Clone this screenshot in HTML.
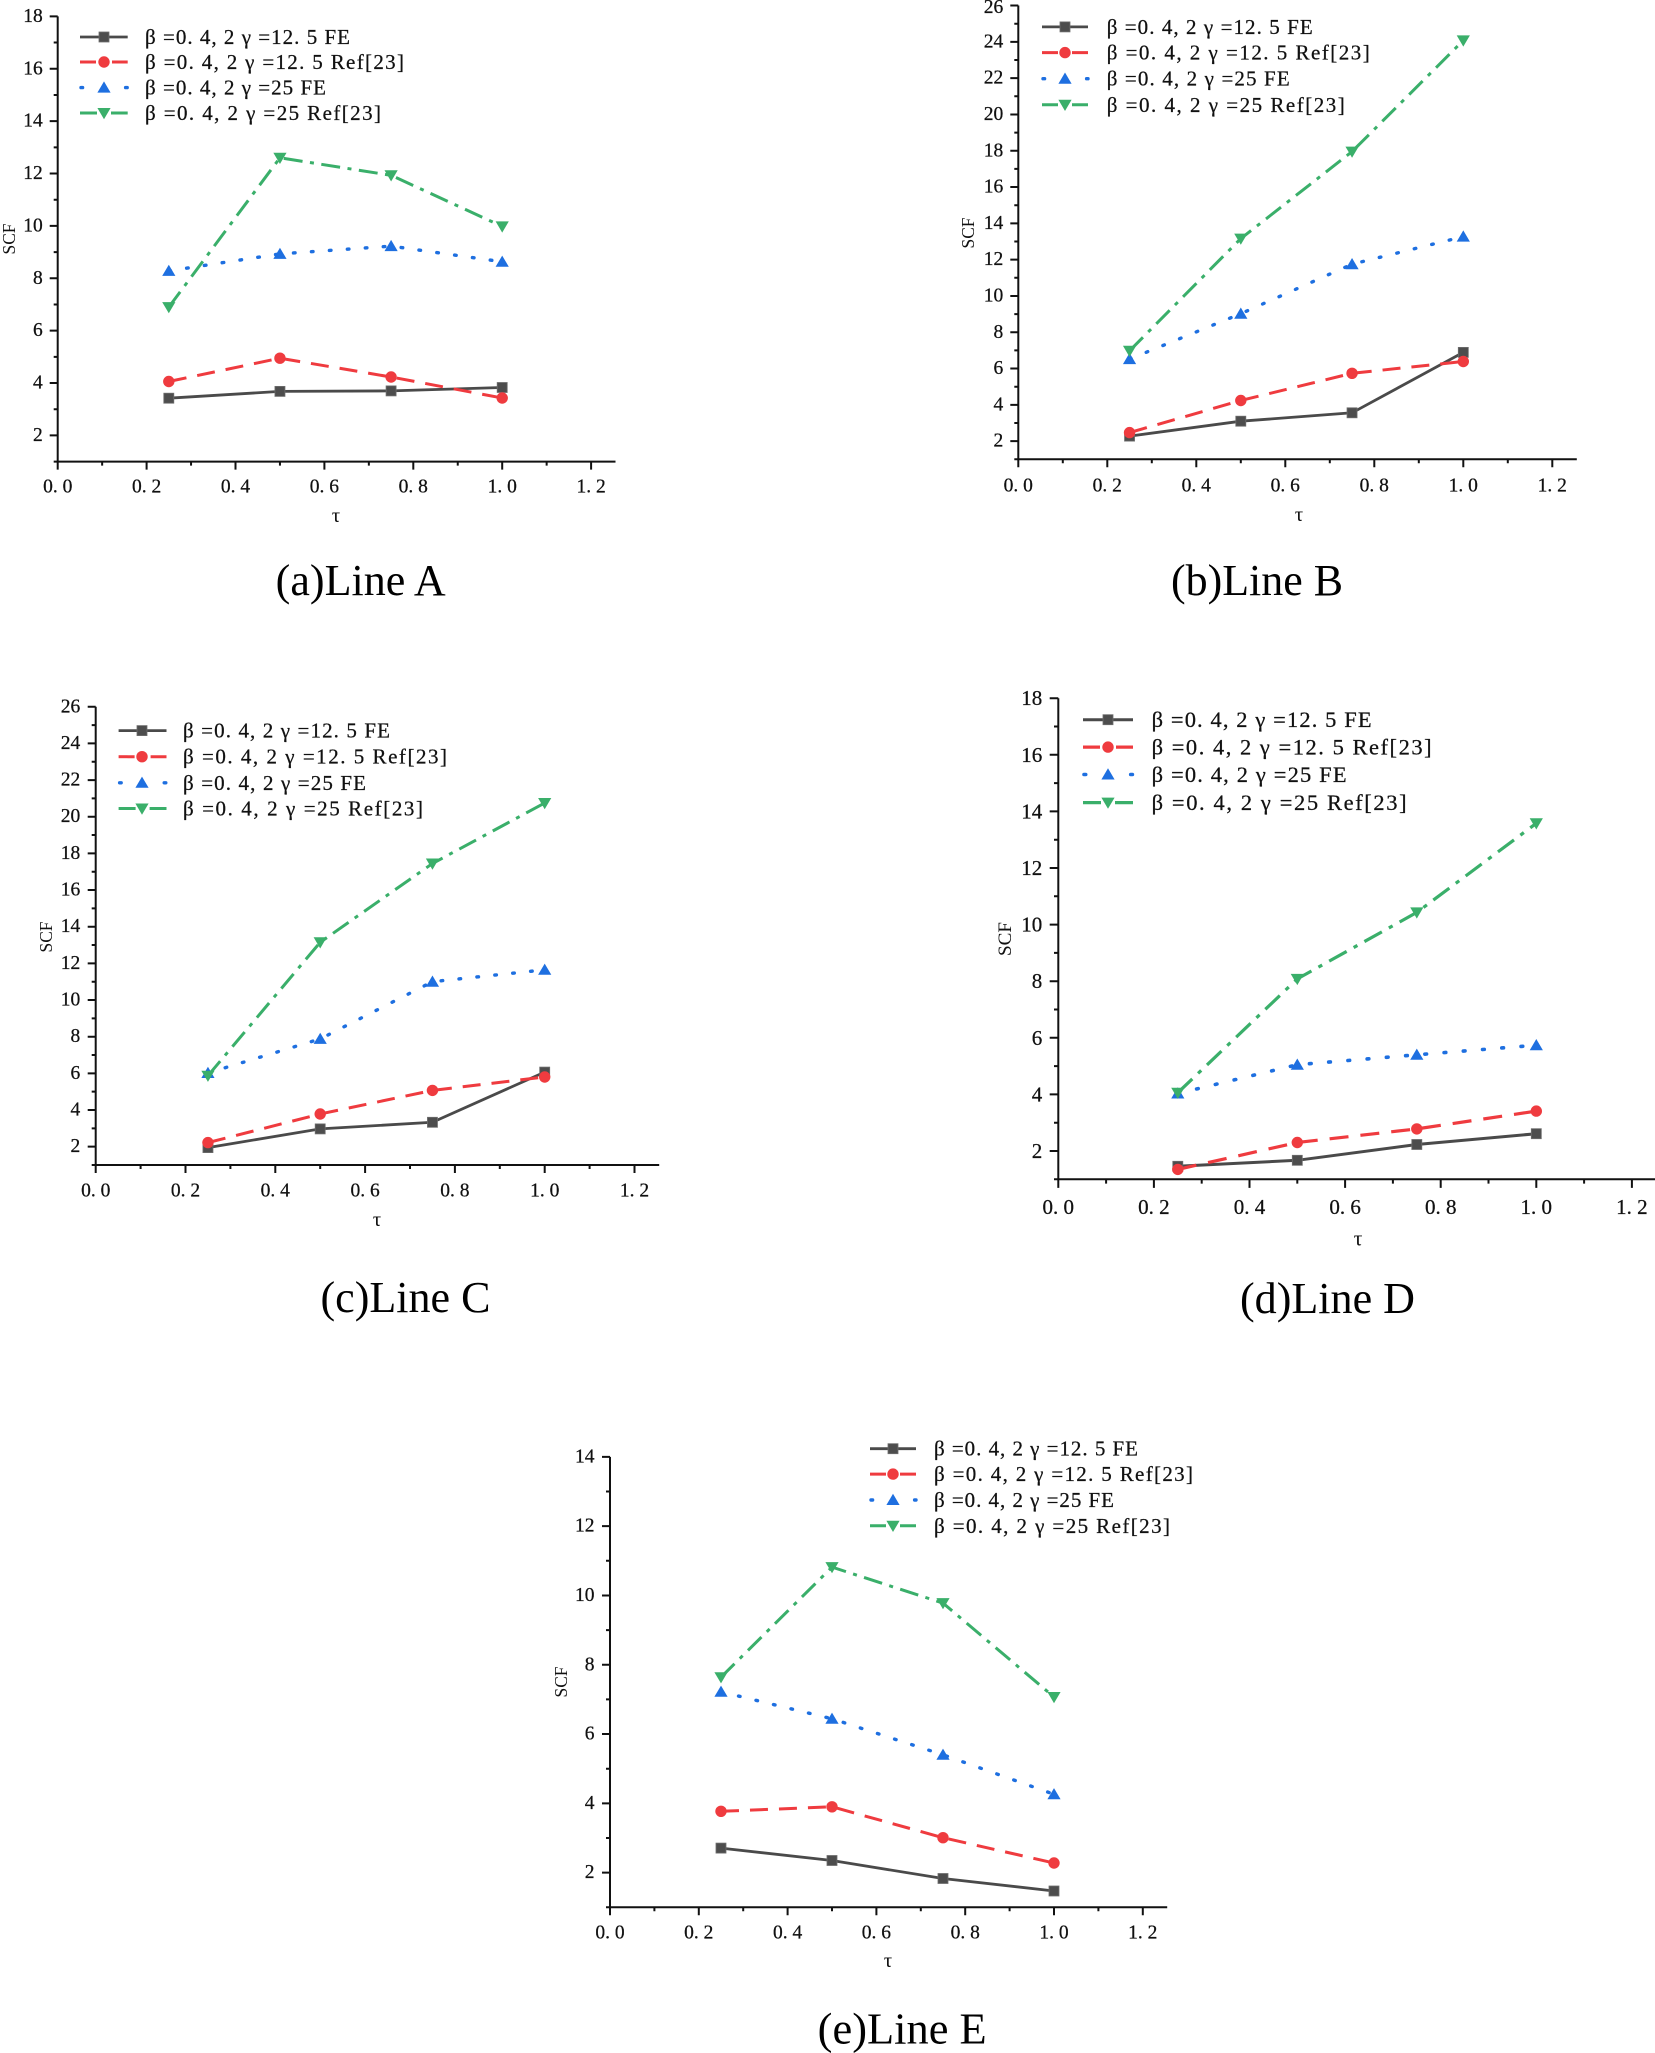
<!DOCTYPE html>
<html><head><meta charset="utf-8"><style>html,body{margin:0;padding:0;background:#fff;}svg{display:block;}</style></head>
<body>
<svg xmlns="http://www.w3.org/2000/svg" width="1655" height="2053" viewBox="0 0 1655 2053">
<rect width="1655" height="2053" fill="#fff"/>
<defs>
<rect id="sq" x="-5" y="-5" width="10" height="10" fill="#4d4d4d" stroke="#6e6e6e" stroke-width="0.8"/>
<circle id="ci" r="5.7" fill="#ef3b3f"/>
<path id="tu" d="M0 -6.2L6.6 5L-6.6 5Z" fill="#1e6fe0"/>
<path id="td" d="M-6.6 -5L6.6 -5L0 6.2Z" fill="#3aaf6a"/>
</defs>

<!-- ================= AXES & TICKS ================= -->
<g fill="none" stroke="#111" stroke-width="2">
<path d="M57.7 16.37V461.6H615.5"/>
<path d="M49.7 435.41H57.7M49.7 383.03H57.7M49.7 330.65H57.7M49.7 278.27H57.7M49.7 225.89H57.7M49.7 173.51H57.7M49.7 121.13H57.7M49.7 68.75H57.7M49.7 16.37H57.7M53.7 461.6H57.7M53.7 409.22H57.7M53.7 356.84H57.7M53.7 304.46H57.7M53.7 252.08H57.7M53.7 199.7H57.7M53.7 147.32H57.7M53.7 94.94H57.7M53.7 42.56H57.7M57.7 461.6V469.6M146.6 461.6V469.6M235.5 461.6V469.6M324.4 461.6V469.6M413.3 461.6V469.6M502.2 461.6V469.6M591.1 461.6V469.6M102.15 461.6V465.6M191.05 461.6V465.6M279.95 461.6V465.6M368.85 461.6V465.6M457.75 461.6V465.6M546.65 461.6V465.6"/>
<path d="M1018.3 5.55V459.3H1576.8"/>
<path d="M1010.3 441.15H1018.3M1010.3 404.85H1018.3M1010.3 368.55H1018.3M1010.3 332.25H1018.3M1010.3 295.95H1018.3M1010.3 259.65H1018.3M1010.3 223.35H1018.3M1010.3 187.05H1018.3M1010.3 150.75H1018.3M1010.3 114.45H1018.3M1010.3 78.15H1018.3M1010.3 41.85H1018.3M1010.3 5.55H1018.3M1014.3 459.3H1018.3M1014.3 423H1018.3M1014.3 386.7H1018.3M1014.3 350.4H1018.3M1014.3 314.1H1018.3M1014.3 277.8H1018.3M1014.3 241.5H1018.3M1014.3 205.2H1018.3M1014.3 168.9H1018.3M1014.3 132.6H1018.3M1014.3 96.3H1018.3M1014.3 60H1018.3M1014.3 23.7H1018.3M1018.3 459.3V467.3M1107.3 459.3V467.3M1196.3 459.3V467.3M1285.3 459.3V467.3M1374.3 459.3V467.3M1463.3 459.3V467.3M1552.3 459.3V467.3M1062.8 459.3V463.3M1151.8 459.3V463.3M1240.8 459.3V463.3M1329.8 459.3V463.3M1418.8 459.3V463.3M1507.8 459.3V463.3"/>
<path d="M95.7 706.75V1165H659.2"/>
<path d="M87.7 1146.67H95.7M87.7 1110.01H95.7M87.7 1073.35H95.7M87.7 1036.69H95.7M87.7 1000.03H95.7M87.7 963.37H95.7M87.7 926.71H95.7M87.7 890.05H95.7M87.7 853.39H95.7M87.7 816.73H95.7M87.7 780.07H95.7M87.7 743.41H95.7M87.7 706.75H95.7M91.7 1165H95.7M91.7 1128.34H95.7M91.7 1091.68H95.7M91.7 1055.02H95.7M91.7 1018.36H95.7M91.7 981.7H95.7M91.7 945.04H95.7M91.7 908.38H95.7M91.7 871.72H95.7M91.7 835.06H95.7M91.7 798.4H95.7M91.7 761.74H95.7M91.7 725.08H95.7M95.7 1165V1173M185.5 1165V1173M275.3 1165V1173M365.1 1165V1173M454.9 1165V1173M544.7 1165V1173M634.5 1165V1173M140.6 1165V1169M230.4 1165V1169M320.2 1165V1169M410 1165V1169M499.8 1165V1169M589.6 1165V1169"/>
<path d="M1058.3 698.2V1179.3H1655"/>
<path d="M1049.7 1151H1058.3M1049.7 1094.4H1058.3M1049.7 1037.8H1058.3M1049.7 981.2H1058.3M1049.7 924.6H1058.3M1049.7 868H1058.3M1049.7 811.4H1058.3M1049.7 754.8H1058.3M1049.7 698.2H1058.3M1054 1179.3H1058.3M1054 1122.7H1058.3M1054 1066.1H1058.3M1054 1009.5H1058.3M1054 952.9H1058.3M1054 896.3H1058.3M1054 839.7H1058.3M1054 783.1H1058.3M1054 726.5H1058.3M1058.3 1179.3V1187.9M1153.9 1179.3V1187.9M1249.5 1179.3V1187.9M1345.1 1179.3V1187.9M1440.7 1179.3V1187.9M1536.3 1179.3V1187.9M1631.9 1179.3V1187.9M1106.1 1179.3V1183.6M1201.7 1179.3V1183.6M1297.3 1179.3V1183.6M1392.9 1179.3V1183.6M1488.5 1179.3V1183.6M1584.1 1179.3V1183.6"/>
<path d="M610 1456.85V1907.3H1167.2"/>
<path d="M602 1872.65H610M602 1803.35H610M602 1734.05H610M602 1664.75H610M602 1595.45H610M602 1526.15H610M602 1456.85H610M606 1907.3H610M606 1838H610M606 1768.7H610M606 1699.4H610M606 1630.1H610M606 1560.8H610M606 1491.5H610M610 1907.3V1915.3M698.8 1907.3V1915.3M787.6 1907.3V1915.3M876.4 1907.3V1915.3M965.2 1907.3V1915.3M1054 1907.3V1915.3M1142.8 1907.3V1915.3M654.4 1907.3V1911.3M743.2 1907.3V1911.3M832 1907.3V1911.3M920.8 1907.3V1911.3M1009.6 1907.3V1911.3M1098.4 1907.3V1911.3"/>
</g>

<!-- ================= TICK LABELS ================= -->
<g font-family="'Liberation Serif', 'Noto Serif CJK SC', serif" font-size="19.5" fill="#111" stroke="#111" stroke-width="0.25" dominant-baseline="central">
<g text-anchor="end">
<text x="42.7" y="435.41">2</text><text x="42.7" y="383.03">4</text><text x="42.7" y="330.65">6</text><text x="42.7" y="278.27">8</text><text x="42.7" y="225.89">10</text><text x="42.7" y="173.51">12</text><text x="42.7" y="121.13">14</text><text x="42.7" y="68.75">16</text><text x="42.7" y="16.37">18</text>
</g>
<g text-anchor="middle">
<text x="57.7" y="487">0. 0</text><text x="146.6" y="487">0. 2</text><text x="235.5" y="487">0. 4</text><text x="324.4" y="487">0. 6</text><text x="413.3" y="487">0. 8</text><text x="502.2" y="487">1. 0</text><text x="591.1" y="487">1. 2</text>
</g>
<g text-anchor="end">
<text x="1003.3" y="441.15">2</text><text x="1003.3" y="404.85">4</text><text x="1003.3" y="368.55">6</text><text x="1003.3" y="332.25">8</text><text x="1003.3" y="295.95">10</text><text x="1003.3" y="259.65">12</text><text x="1003.3" y="223.35">14</text><text x="1003.3" y="187.05">16</text><text x="1003.3" y="150.75">18</text><text x="1003.3" y="114.45">20</text><text x="1003.3" y="78.15">22</text><text x="1003.3" y="41.85">24</text><text x="1003.3" y="7.5">26</text>
</g>
<g text-anchor="middle">
<text x="1018.3" y="486">0. 0</text><text x="1107.3" y="486">0. 2</text><text x="1196.3" y="486">0. 4</text><text x="1285.3" y="486">0. 6</text><text x="1374.3" y="486">0. 8</text><text x="1463.3" y="486">1. 0</text><text x="1552.3" y="486">1. 2</text>
</g>
<g text-anchor="end">
<text x="80.2" y="1146.67">2</text><text x="80.2" y="1110.01">4</text><text x="80.2" y="1073.35">6</text><text x="80.2" y="1036.69">8</text><text x="80.2" y="1000.03">10</text><text x="80.2" y="963.37">12</text><text x="80.2" y="926.71">14</text><text x="80.2" y="890.05">16</text><text x="80.2" y="853.39">18</text><text x="80.2" y="816.73">20</text><text x="80.2" y="780.07">22</text><text x="80.2" y="743.41">24</text><text x="80.2" y="706.75">26</text>
</g>
<g text-anchor="middle">
<text x="95.7" y="1191">0. 0</text><text x="185.5" y="1191">0. 2</text><text x="275.3" y="1191">0. 4</text><text x="365.1" y="1191">0. 6</text><text x="454.9" y="1191">0. 8</text><text x="544.7" y="1191">1. 0</text><text x="634.5" y="1191">1. 2</text>
</g>
<g font-size="21">
<g text-anchor="end">
<text x="1042.3" y="1151">2</text><text x="1042.3" y="1094.4">4</text><text x="1042.3" y="1037.8">6</text><text x="1042.3" y="981.2">8</text><text x="1042.3" y="924.6">10</text><text x="1042.3" y="868">12</text><text x="1042.3" y="811.4">14</text><text x="1042.3" y="754.8">16</text><text x="1042.3" y="698.2">18</text>
</g>
<g text-anchor="middle">
<text x="1058.3" y="1207">0. 0</text><text x="1153.9" y="1207">0. 2</text><text x="1249.5" y="1207">0. 4</text><text x="1345.1" y="1207">0. 6</text><text x="1440.7" y="1207">0. 8</text><text x="1536.3" y="1207">1. 0</text><text x="1631.9" y="1207">1. 2</text>
</g>
</g>
<g text-anchor="end">
<text x="594.5" y="1872.65">2</text><text x="594.5" y="1803.35">4</text><text x="594.5" y="1734.05">6</text><text x="594.5" y="1664.75">8</text><text x="594.5" y="1595.45">10</text><text x="594.5" y="1526.15">12</text><text x="594.5" y="1456.85">14</text>
</g>
<g text-anchor="middle">
<text x="610" y="1933">0. 0</text><text x="698.8" y="1933">0. 2</text><text x="787.6" y="1933">0. 4</text><text x="876.4" y="1933">0. 6</text><text x="965.2" y="1933">0. 8</text><text x="1054" y="1933">1. 0</text><text x="1142.8" y="1933">1. 2</text>
</g>
</g>

<!-- ================= AXIS TITLES ================= -->
<g font-family="'Liberation Serif', serif" fill="#111" text-anchor="middle" dominant-baseline="central">
<text transform="translate(9,239) rotate(-90)" font-size="18" textLength="31" lengthAdjust="spacingAndGlyphs">SCF</text>
<text transform="translate(968,233) rotate(-90)" font-size="18" textLength="31" lengthAdjust="spacingAndGlyphs">SCF</text>
<text transform="translate(46,937) rotate(-90)" font-size="18" textLength="31" lengthAdjust="spacingAndGlyphs">SCF</text>
<text transform="translate(1005.6,939) rotate(-90)" font-size="19" textLength="34" lengthAdjust="spacingAndGlyphs">SCF</text>
<text transform="translate(561,1682) rotate(-90)" font-size="18" textLength="31" lengthAdjust="spacingAndGlyphs">SCF</text>
<text x="336" y="515" font-size="21">τ</text>
<text x="1299" y="514" font-size="21">τ</text>
<text x="377" y="1219" font-size="21">τ</text>
<text x="1358" y="1238" font-size="22">τ</text>
<text x="888" y="1960" font-size="21">τ</text>
</g>

<!-- ================= CAPTIONS ================= -->
<g font-family="'Liberation Serif', serif" fill="#000" font-size="44">
<text x="275.7" y="595" textLength="170" lengthAdjust="spacingAndGlyphs">(a)Line A</text>
<text x="1171" y="595" textLength="172" lengthAdjust="spacingAndGlyphs">(b)Line B</text>
<text x="320.5" y="1312" textLength="170" lengthAdjust="spacingAndGlyphs">(c)Line C</text>
<text x="1240" y="1313" textLength="175" lengthAdjust="spacingAndGlyphs">(d)Line D</text>
<text x="817.7" y="2043.5" textLength="169" lengthAdjust="spacingAndGlyphs">(e)Line E</text>
</g>

<!-- ================= SERIES ================= -->
<g fill="none">
<polyline points="168.8,398.2 279.95,391.4 391.1,390.9 502.2,387.5" stroke="#4a4a4a" stroke-width="2.8"/>
<polyline points="168.8,381.5 279.95,358.2 391.1,377 502.2,398" stroke="#ef3b3f" stroke-width="3" stroke-dasharray="18 11"/>
<polyline points="168.8,270.9 279.95,253.9 391.1,246.1 502.2,261.8" stroke="#1e6fe0" stroke-width="3.4" stroke-dasharray="1.6 16.4" stroke-linecap="round"/>
<polyline points="168.8,307.1 279.95,157.8 391.1,175.3 502.2,226.4" stroke="#3aaf6a" stroke-width="3" stroke-dasharray="19 7.5 4 7.5"/>
<polyline points="1129.55,436.1 1240.8,421.2 1352.05,412.8 1463.3,352.4" stroke="#4a4a4a" stroke-width="2.8"/>
<polyline points="1129.55,432.6 1240.8,400.5 1352.05,373.3 1463.3,361.5" stroke="#ef3b3f" stroke-width="3" stroke-dasharray="18 11"/>
<polyline points="1129.55,359.1 1240.8,313.7 1352.05,264.2 1463.3,236.6" stroke="#1e6fe0" stroke-width="3.4" stroke-dasharray="1.6 16.4" stroke-linecap="round"/>
<polyline points="1129.55,350.8 1240.8,238.6 1352.05,151.6 1463.3,40.4" stroke="#3aaf6a" stroke-width="3" stroke-dasharray="19 7.5 4 7.5"/>
<polyline points="207.95,1147.6 320.2,1128.9 432.45,1122.3 544.7,1072.1" stroke="#4a4a4a" stroke-width="2.8"/>
<polyline points="207.95,1142.6 320.2,1114 432.45,1090.4 544.7,1077" stroke="#ef3b3f" stroke-width="3" stroke-dasharray="18 11"/>
<polyline points="207.95,1073 320.2,1038.9 432.45,981.7 544.7,969.8" stroke="#1e6fe0" stroke-width="3.4" stroke-dasharray="1.6 16.4" stroke-linecap="round"/>
<polyline points="207.95,1075.7 320.2,942.3 432.45,863.5 544.7,803" stroke="#3aaf6a" stroke-width="3" stroke-dasharray="19 7.5 4 7.5"/>
<polyline points="1177.8,1166.3 1297.3,1160.3 1416.8,1144.5 1536.3,1133.7" stroke="#4a4a4a" stroke-width="3"/>
<polyline points="1177.8,1169.4 1297.3,1142.5 1416.8,1128.9 1536.3,1111.1" stroke="#ef3b3f" stroke-width="3.2" stroke-dasharray="19 12"/>
<polyline points="1177.8,1093.5 1297.3,1064.7 1416.8,1054.8 1536.3,1045.2" stroke="#1e6fe0" stroke-width="3.6" stroke-dasharray="1.7 17.6" stroke-linecap="round"/>
<polyline points="1177.8,1092.7 1297.3,978.9 1416.8,912.4 1536.3,823.3" stroke="#3aaf6a" stroke-width="3.2" stroke-dasharray="20 8 4.3 8"/>
<polyline points="721,1848.1 832,1860.5 943,1878.5 1054,1891" stroke="#4a4a4a" stroke-width="2.8"/>
<polyline points="721,1811.3 832,1806.8 943,1837.7 1054,1863" stroke="#ef3b3f" stroke-width="3" stroke-dasharray="18 11"/>
<polyline points="721,1691.8 832,1718.8 943,1754.8 1054,1794.3" stroke="#1e6fe0" stroke-width="3.4" stroke-dasharray="1.6 16.4" stroke-linecap="round"/>
<polyline points="721,1677.2 832,1567.1 943,1603.1 1054,1697" stroke="#3aaf6a" stroke-width="3" stroke-dasharray="19 7.5 4 7.5"/>
</g>

<g>
<use href="#sq" x="168.8" y="398.2"/><use href="#sq" x="279.95" y="391.4"/><use href="#sq" x="391.1" y="390.9"/><use href="#sq" x="502.2" y="387.5"/>
<use href="#ci" x="168.8" y="381.5"/><use href="#ci" x="279.95" y="358.2"/><use href="#ci" x="391.1" y="377"/><use href="#ci" x="502.2" y="398"/>
<use href="#tu" x="168.8" y="270.9"/><use href="#tu" x="279.95" y="253.9"/><use href="#tu" x="391.1" y="246.1"/><use href="#tu" x="502.2" y="261.8"/>
<use href="#td" x="168.8" y="307.1"/><use href="#td" x="279.95" y="157.8"/><use href="#td" x="391.1" y="175.3"/><use href="#td" x="502.2" y="226.4"/>
<use href="#sq" x="1129.55" y="436.1"/><use href="#sq" x="1240.8" y="421.2"/><use href="#sq" x="1352.05" y="412.8"/><use href="#sq" x="1463.3" y="352.4"/>
<use href="#ci" x="1129.55" y="432.6"/><use href="#ci" x="1240.8" y="400.5"/><use href="#ci" x="1352.05" y="373.3"/><use href="#ci" x="1463.3" y="361.5"/>
<use href="#tu" x="1129.55" y="359.1"/><use href="#tu" x="1240.8" y="313.7"/><use href="#tu" x="1352.05" y="264.2"/><use href="#tu" x="1463.3" y="236.6"/>
<use href="#td" x="1129.55" y="350.8"/><use href="#td" x="1240.8" y="238.6"/><use href="#td" x="1352.05" y="151.6"/><use href="#td" x="1463.3" y="40.4"/>
<use href="#sq" x="207.95" y="1147.6"/><use href="#sq" x="320.2" y="1128.9"/><use href="#sq" x="432.45" y="1122.3"/><use href="#sq" x="544.7" y="1072.1"/>
<use href="#ci" x="207.95" y="1142.6"/><use href="#ci" x="320.2" y="1114"/><use href="#ci" x="432.45" y="1090.4"/><use href="#ci" x="544.7" y="1077"/>
<use href="#tu" x="207.95" y="1073"/><use href="#tu" x="320.2" y="1038.9"/><use href="#tu" x="432.45" y="981.7"/><use href="#tu" x="544.7" y="969.8"/>
<use href="#td" x="207.95" y="1075.7"/><use href="#td" x="320.2" y="942.3"/><use href="#td" x="432.45" y="863.5"/><use href="#td" x="544.7" y="803"/>
<use href="#sq" x="1177.8" y="1166.3"/><use href="#sq" x="1297.3" y="1160.3"/><use href="#sq" x="1416.8" y="1144.5"/><use href="#sq" x="1536.3" y="1133.7"/>
<use href="#ci" x="1177.8" y="1169.4"/><use href="#ci" x="1297.3" y="1142.5"/><use href="#ci" x="1416.8" y="1128.9"/><use href="#ci" x="1536.3" y="1111.1"/>
<use href="#tu" x="1177.8" y="1093.5"/><use href="#tu" x="1297.3" y="1064.7"/><use href="#tu" x="1416.8" y="1054.8"/><use href="#tu" x="1536.3" y="1045.2"/>
<use href="#td" x="1177.8" y="1092.7"/><use href="#td" x="1297.3" y="978.9"/><use href="#td" x="1416.8" y="912.4"/><use href="#td" x="1536.3" y="823.3"/>
<use href="#sq" x="721" y="1848.1"/><use href="#sq" x="832" y="1860.5"/><use href="#sq" x="943" y="1878.5"/><use href="#sq" x="1054" y="1891"/>
<use href="#ci" x="721" y="1811.3"/><use href="#ci" x="832" y="1806.8"/><use href="#ci" x="943" y="1837.7"/><use href="#ci" x="1054" y="1863"/>
<use href="#tu" x="721" y="1691.8"/><use href="#tu" x="832" y="1718.8"/><use href="#tu" x="943" y="1754.8"/><use href="#tu" x="1054" y="1794.3"/>
<use href="#td" x="721" y="1677.2"/><use href="#td" x="832" y="1567.1"/><use href="#td" x="943" y="1603.1"/><use href="#td" x="1054" y="1697"/>
</g>

<!-- ================= LEGENDS ================= -->
<g fill="none">
<path d="M80 37H127.7" stroke="#4a4a4a" stroke-width="2.8"/>
<path d="M80 62H127.7" stroke="#ef3b3f" stroke-width="3" stroke-dasharray="16 16"/>
<path d="M81 87.6H127.7" stroke="#1e6fe0" stroke-width="3.4" stroke-dasharray="1.6 43" stroke-linecap="round"/>
<path d="M80 113H127.7" stroke="#3aaf6a" stroke-width="3" stroke-dasharray="17 14 17"/>
<path d="M1042 26.9H1088" stroke="#4a4a4a" stroke-width="2.8"/>
<path d="M1042 52.6H1088" stroke="#ef3b3f" stroke-width="3" stroke-dasharray="16 14"/>
<path d="M1043 78.7H1088" stroke="#1e6fe0" stroke-width="3.4" stroke-dasharray="1.6 42" stroke-linecap="round"/>
<path d="M1042 104.8H1088" stroke="#3aaf6a" stroke-width="3" stroke-dasharray="16 14 16"/>
<path d="M118.6 730.6H166.5" stroke="#4a4a4a" stroke-width="2.8"/>
<path d="M118.6 756.7H166.5" stroke="#ef3b3f" stroke-width="3" stroke-dasharray="16 16"/>
<path d="M119.6 782.8H166.5" stroke="#1e6fe0" stroke-width="3.4" stroke-dasharray="1.6 43" stroke-linecap="round"/>
<path d="M118.6 808.5H166.5" stroke="#3aaf6a" stroke-width="3" stroke-dasharray="17 14 17"/>
<path d="M1083 719.7H1133" stroke="#4a4a4a" stroke-width="3"/>
<path d="M1083 747.1H1133" stroke="#ef3b3f" stroke-width="3.2" stroke-dasharray="17 16"/>
<path d="M1084 774.5H1133" stroke="#1e6fe0" stroke-width="3.6" stroke-dasharray="1.7 45" stroke-linecap="round"/>
<path d="M1083 802.6H1133" stroke="#3aaf6a" stroke-width="3.2" stroke-dasharray="18 14 18"/>
<path d="M870 1448.7H916" stroke="#4a4a4a" stroke-width="2.8"/>
<path d="M870 1474.1H916" stroke="#ef3b3f" stroke-width="3" stroke-dasharray="16 14"/>
<path d="M871 1500H916" stroke="#1e6fe0" stroke-width="3.4" stroke-dasharray="1.6 42" stroke-linecap="round"/>
<path d="M870 1525.8H916" stroke="#3aaf6a" stroke-width="3" stroke-dasharray="16 14 16"/>
</g>
<g>
<use href="#sq" x="104" y="37"/><use href="#ci" x="104" y="62"/><use href="#tu" x="104" y="87.6"/><use href="#td" x="104" y="113"/>
<use href="#sq" x="1065" y="26.9"/><use href="#ci" x="1065" y="52.6"/><use href="#tu" x="1065" y="78.7"/><use href="#td" x="1065" y="104.8"/>
<use href="#sq" x="142" y="730.6"/><use href="#ci" x="142" y="756.7"/><use href="#tu" x="142" y="782.8"/><use href="#td" x="142" y="808.5"/>
<use href="#sq" x="1108" y="719.7"/><use href="#ci" x="1108" y="747.1"/><use href="#tu" x="1108" y="774.5"/><use href="#td" x="1108" y="802.6"/>
<use href="#sq" x="893" y="1448.7"/><use href="#ci" x="893" y="1474.1"/><use href="#tu" x="893" y="1500"/><use href="#td" x="893" y="1525.8"/>
</g>
<g font-family="'Liberation Serif', 'Noto Serif CJK SC', serif" font-size="21" fill="#111" stroke="#111" stroke-width="0.25" dominant-baseline="central">
<text x="145" y="37" textLength="205" lengthAdjust="spacing">β =0. 4, 2 γ =12. 5  FE</text>
<text x="145" y="62" textLength="259" lengthAdjust="spacing">β =0. 4, 2 γ =12. 5  Ref[23]</text>
<text x="145" y="87.6" textLength="181" lengthAdjust="spacing">β =0. 4, 2 γ =25  FE</text>
<text x="145" y="113" textLength="236" lengthAdjust="spacing">β =0. 4, 2 γ =25  Ref[23]</text>
<text x="1106.7" y="26.9" textLength="206" lengthAdjust="spacing">β =0. 4, 2 γ =12. 5  FE</text>
<text x="1106.7" y="52.6" textLength="263" lengthAdjust="spacing">β =0. 4, 2 γ =12. 5  Ref[23]</text>
<text x="1106.7" y="78.7" textLength="183" lengthAdjust="spacing">β =0. 4, 2 γ =25  FE</text>
<text x="1106.7" y="104.8" textLength="238" lengthAdjust="spacing">β =0. 4, 2 γ =25  Ref[23]</text>
<text x="183" y="730.6" textLength="207" lengthAdjust="spacing">β =0. 4, 2 γ =12. 5  FE</text>
<text x="183" y="756.7" textLength="264" lengthAdjust="spacing">β =0. 4, 2 γ =12. 5  Ref[23]</text>
<text x="183" y="782.8" textLength="183" lengthAdjust="spacing">β =0. 4, 2 γ =25  FE</text>
<text x="183" y="808.5" textLength="240" lengthAdjust="spacing">β =0. 4, 2 γ =25  Ref[23]</text>
<g font-size="22.5">
<text x="1151.6" y="719.7" textLength="220" lengthAdjust="spacing">β =0. 4, 2 γ =12. 5  FE</text>
<text x="1151.6" y="747.1" textLength="280" lengthAdjust="spacing">β =0. 4, 2 γ =12. 5  Ref[23]</text>
<text x="1151.6" y="774.5" textLength="195" lengthAdjust="spacing">β =0. 4, 2 γ =25  FE</text>
<text x="1151.6" y="802.6" textLength="255" lengthAdjust="spacing">β =0. 4, 2 γ =25  Ref[23]</text>
</g>
<text x="934" y="1448.7" textLength="204" lengthAdjust="spacing">β =0. 4, 2 γ =12. 5  FE</text>
<text x="934" y="1474.1" textLength="259" lengthAdjust="spacing">β =0. 4, 2 γ =12. 5  Ref[23]</text>
<text x="934" y="1500" textLength="180" lengthAdjust="spacing">β =0. 4, 2 γ =25  FE</text>
<text x="934" y="1525.8" textLength="236" lengthAdjust="spacing">β =0. 4, 2 γ =25  Ref[23]</text>
</g>
</svg>
</body></html>
